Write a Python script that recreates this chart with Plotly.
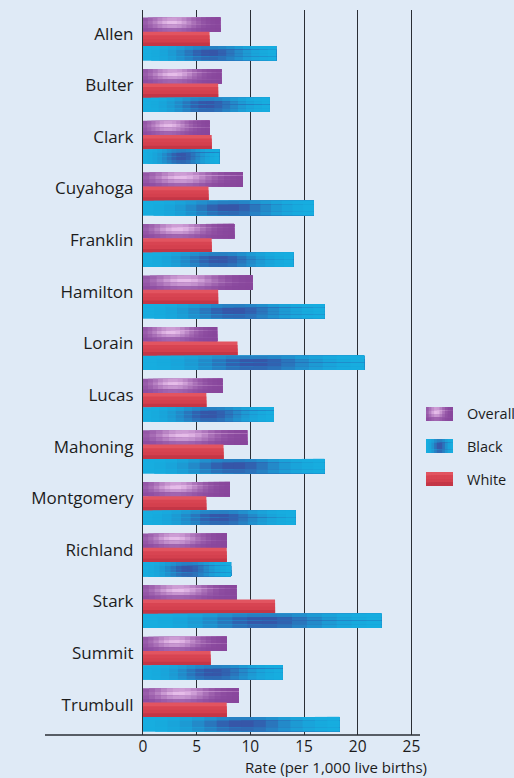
import math
import plotly.graph_objects as go

counties = ["Allen", "Bulter", "Clark", "Cuyahoga", "Franklin", "Hamilton", "Lorain",
            "Lucas", "Mahoning", "Montgomery", "Richland", "Stark", "Summit", "Trumbull"]
overall = [7.2, 7.3, 6.2, 9.3, 8.5, 10.2, 6.9, 7.4, 9.7, 8.1, 7.8, 8.7, 7.8, 8.9]
white = [6.2, 7.0, 6.4, 6.1, 6.4, 7.0, 8.8, 5.9, 7.5, 5.9, 7.8, 12.3, 6.3, 7.8]
black = [12.4, 11.8, 7.1, 15.9, 14.0, 16.9, 20.6, 12.2, 16.9, 14.2, 8.2, 22.2, 13.0, 18.3]
x_ticks = [0, 5, 10, 15, 20, 25]
x_title = "Rate (per 1,000 live births)"

BG = "#dfeaf6"
INK = "#1c1c1c"
FONT = "Open Sans"


def mix(a, b, t):
    t = max(0.0, min(1.0, t))
    return "rgb(%d,%d,%d)" % tuple(round(a[k] + (b[k] - a[k]) * t) for k in range(3))


def col_overall(u, t):
    purple = (136, 70, 156)
    light = (236, 196, 238)
    h = math.exp(-((u - 0.38) / 0.27) ** 2)
    g = [0.7, 0.95, 0.65, 0.25][t]
    return mix(purple, light, h * g)


def col_black(u, t):
    cyan = (22, 174, 224)
    blue = (56, 80, 164)
    h = math.exp(-((u - 0.5) / 0.23) ** 2)
    g = [0.5, 0.95, 0.95, 0.75][t]
    return mix(cyan, blue, h * g)


def col_white(u, t):
    shades = [(226, 84, 96), (216, 68, 82), (212, 64, 78), (196, 54, 70)]
    return "rgb(%d,%d,%d)" % shades[t]


series = [
    ("Overall", overall, col_overall, -0.415, 16),
    ("White", white, col_white, -0.138, 1),
    ("Black", black, col_black, 0.139, 16),
]
BW = 0.277
M = 4
ypos = list(range(len(counties)))

fig = go.Figure()
for name, vals, cfun, off, N in series:
    for j in range(M):
        for k in range(N):
            u = (k + 0.5) / N
            # each piece reaches to the bar's end / bottom; later pieces overlap -> no seams
            fig.add_trace(go.Bar(
                orientation="h",
                y=ypos,
                x=[v * (N - k) / N for v in vals],
                base=[v * k / N for v in vals],
                offset=off + j * BW / M,
                width=BW * (M - j) / M,
                marker=dict(color=cfun(u, j), line=dict(width=0)),
                showlegend=False,
                hoverinfo="skip",
                name=name,
            ))

PLOT_T, PLOT_B, PLOT_L, PLOT_R = 10, 735, 143, 420
W, H = 514, 778


def px_to_paper_x(px):
    return (px - PLOT_L) / (PLOT_R - PLOT_L)


def px_to_paper_y(py):
    return (PLOT_B - py) / (PLOT_B - PLOT_T)


# Legend (manual)
legend_items = [("Overall", col_overall, 414), ("Black", col_black, 446), ("White", col_white, 479)]
for lab, cfun, cy in legend_items:
    n = 10
    for j in range(M):
        for k in range(n):
            x0 = 426 + 27 * k / n
            y0 = cy - 7 + 14 * j / M
            fig.add_shape(type="rect", xref="paper", yref="paper",
                          x0=px_to_paper_x(x0), x1=px_to_paper_x(453),
                          y0=px_to_paper_y(cy + 7), y1=px_to_paper_y(y0),
                          fillcolor=cfun((k + 0.5) / n, j), line=dict(width=0), layer="above")
    fig.add_annotation(x=px_to_paper_x(465), y=px_to_paper_y(cy), xref="paper", yref="paper",
                       text=lab, showarrow=False, xanchor="left", yanchor="middle",
                       font=dict(family=FONT, size=14.5, color=INK))

# bottom axis line extending left
fig.add_shape(type="line", xref="paper", yref="paper",
              x0=px_to_paper_x(45), x1=1, y0=0, y1=0,
              line=dict(color="#2a2e35", width=1.5))

fig.add_annotation(x=px_to_paper_x(336), y=px_to_paper_y(778), xref="paper", yref="paper",
                   text=x_title, showarrow=False, xanchor="center", yanchor="bottom",
                   borderpad=0,
                   font=dict(family=FONT, size=15, color=INK))

fig.update_layout(
    width=W, height=H,
    margin=dict(l=PLOT_L, r=W - PLOT_R, t=PLOT_T, b=H - PLOT_B, autoexpand=False),
    paper_bgcolor=BG, plot_bgcolor=BG,
    barmode="overlay",
    showlegend=False,
    font=dict(family=FONT, size=17, color=INK),
    xaxis=dict(range=[0, 25.8], tickvals=x_ticks, ticktext=[str(t) for t in x_ticks],
               showgrid=True, gridcolor="#2a2e35", gridwidth=1, zeroline=False,
               showline=False, ticks="", ticklabelstandoff=0,
               tickfont=dict(family=FONT, size=15.5, color=INK)),
    yaxis=dict(range=[13.49, -0.56], tickvals=[i - 0.1 for i in ypos], ticktext=counties,
               showgrid=False, zeroline=False, showline=True, linecolor="#2a2e35", linewidth=1.2,
               ticks="", ticklabelstandoff=5,
               tickfont=dict(family=FONT, size=17, color=INK)),
)

fig.write_html("out.html", config={"displayModeBar": False},
               post_script="document.body.style.margin='0';document.body.style.overflow='hidden';")
